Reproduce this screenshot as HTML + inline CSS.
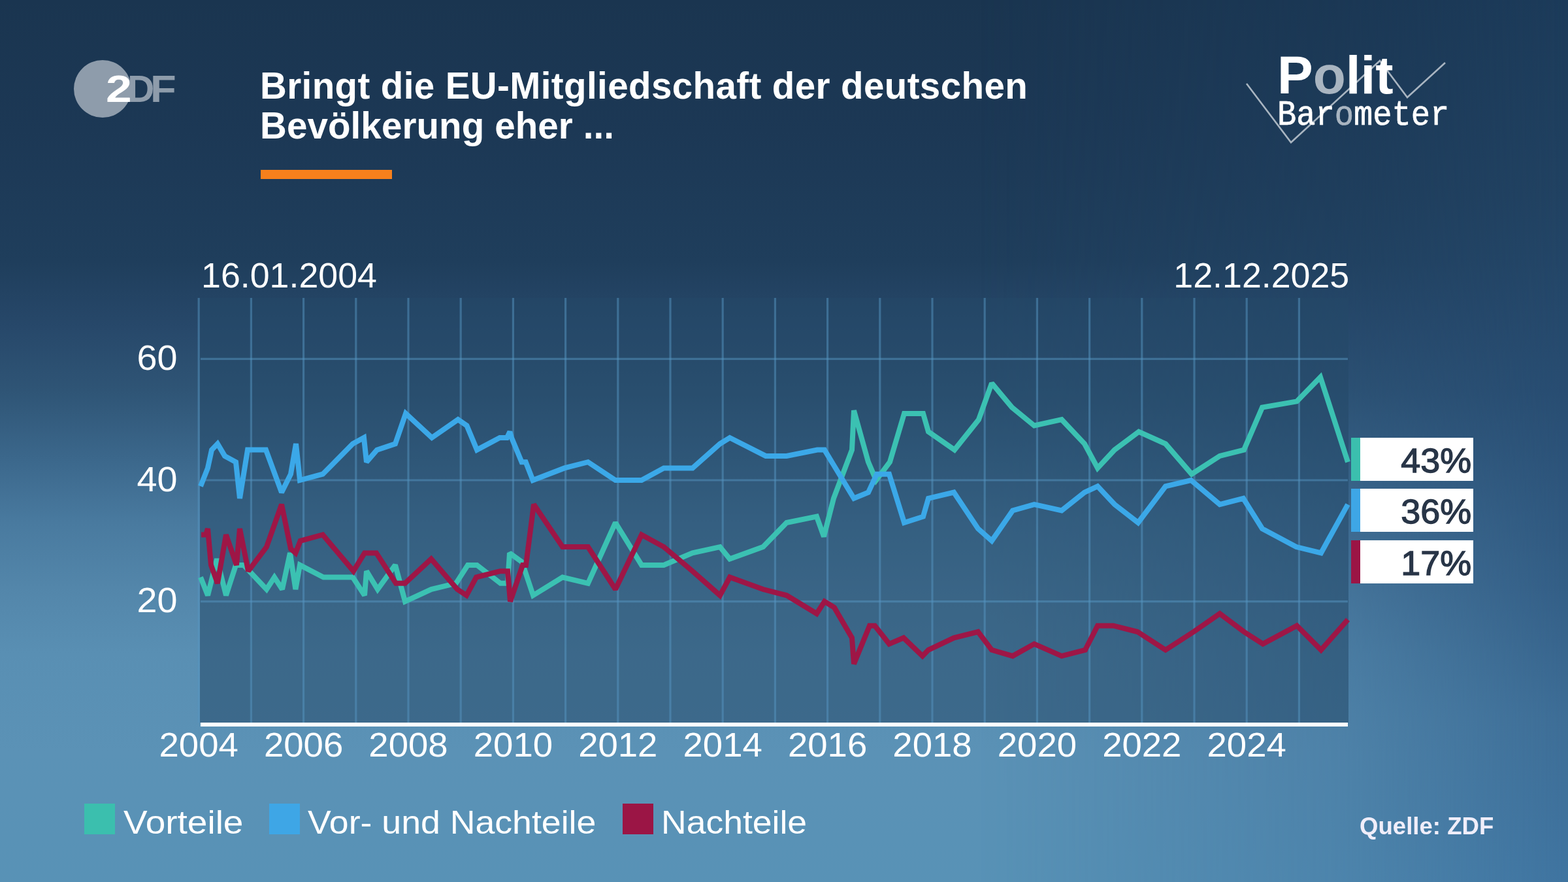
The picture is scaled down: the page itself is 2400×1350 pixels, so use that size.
<!DOCTYPE html>
<html lang="de">
<head>
<meta charset="utf-8">
<title>Politbarometer – EU-Mitgliedschaft</title>
<style>
*{margin:0;padding:0;box-sizing:border-box}
html,body{width:2400px;height:1350px;overflow:hidden}
body{position:relative;font-family:"Liberation Sans",Arial,sans-serif;color:#fff;
background:linear-gradient(180deg,#1a3550 0px,#1c3855 200px,#1f3e5c 400px,#27486a 500px,#2f5576 600px,#3b678b 700px,#497a9f 800px,#5386aa 900px,#598fb3 1000px,#5b92b6 1150px,#5892b6 1350px);}
#bgR{position:absolute;left:0;top:0;width:2400px;height:1350px;
background:linear-gradient(180deg,#1c3b5a 0px,#214262 300px,#284d72 600px,#335e86 900px,#3d6d96 1100px,#3f74a0 1350px);
-webkit-mask-image:linear-gradient(90deg,rgba(0,0,0,0) 1500px,rgba(0,0,0,0.45) 2050px,#000 2400px);
mask-image:linear-gradient(90deg,rgba(0,0,0,0) 1500px,rgba(0,0,0,0.45) 2050px,#000 2400px);}
.abs{position:absolute}
#title{left:398px;top:100.5px;font-weight:bold;font-size:56.5px;line-height:61.3px;white-space:nowrap;letter-spacing:0.4px}
#bar{left:399px;top:260px;width:201px;height:14px;background:#f7801c}
.date{top:393px;font-size:53px;line-height:58px;white-space:nowrap;transform:scaleX(1.014)}
#chart{left:0;top:0}
.leg{top:1230px;height:47px}
.sq{position:absolute;top:1230px;width:47px;height:47px}
.lt{position:absolute;top:1230.5px;font-size:50px;line-height:56px;white-space:nowrap;transform-origin:0 0}
#src{left:2081px;top:1244px;font-size:36.6px;font-weight:bold;color:#f0eefa;white-space:nowrap}
.box{position:absolute;left:2068px;width:187px;height:66px;background:#fff}
.box i{position:absolute;left:0;top:0;width:14px;height:66px}
.box span{position:absolute;right:2.5px;top:6px;font-size:52px;line-height:58px;color:#283547;transform:scaleX(1.036);transform-origin:100% 0;-webkit-text-stroke:1.3px #283547}
</style>
</head>
<body>
<div id="bgR"></div>
<!-- ZDF logo -->
<div class="abs" style="left:113px;top:92px;width:88px;height:88px;border-radius:50%;background:#8e9cab"></div>
<div class="abs" id="zdf" style="left:0;top:106.1px;font-size:58px;line-height:60px;font-weight:bold;color:#8e9cab;white-space:nowrap"><span style="position:absolute;left:162.2px;color:#fff;transform:scaleX(1.236);transform-origin:0 0">2</span><span style="position:absolute;left:194.9px;transform:scaleX(0.986);transform-origin:0 0">D</span><span style="position:absolute;left:230.4px;transform:scaleX(1.12);transform-origin:0 0">F</span></div>

<div class="abs" id="title">Bringt die EU-Mitgliedschaft der deutschen<br><span style="letter-spacing:0.1px">Bevölkerung eher ...</span></div>
<div class="abs" id="bar"></div>

<!-- Politbarometer logo -->
<svg class="abs" style="left:1890px;top:70px" width="340" height="160" viewBox="1890 70 340 160">
<polyline points="1908,128 1976,218 2112,93 2154,149 2212,96" fill="none" stroke="#a9b5c1" stroke-width="2.6"/>
</svg>
<div class="abs" style="left:1955px;top:70px;font-size:82px;line-height:90px;font-weight:bold;white-space:nowrap">P<span style="color:#a9b5c1">o</span>lit</div>
<div class="abs" style="left:1955px;top:149px;font-family:'Liberation Mono',monospace;font-size:53px;line-height:56px;white-space:nowrap;transform:scaleX(0.92);transform-origin:0 0;-webkit-text-stroke:0.7px #fff">Bar<span style="color:#a9b5c1;-webkit-text-stroke-color:#a9b5c1">o</span>meter</div>

<div class="abs date" style="left:308px;transform-origin:0 0">16.01.2004</div>
<div class="abs date" style="right:335px;transform-origin:100% 0">12.12.2025</div>

<svg class="abs" id="chart" width="2400" height="1350" viewBox="0 0 2400 1350">
<rect x="306" y="456" width="1758" height="650" fill="rgba(36,72,104,0.55)"/>
<g id="grid" stroke="rgba(86,150,194,0.5)" stroke-width="3.2"><line x1="304.2" y1="456" x2="304.2" y2="1106"/><line x1="384.4" y1="456" x2="384.4" y2="1106"/><line x1="464.6" y1="456" x2="464.6" y2="1106"/><line x1="544.8" y1="456" x2="544.8" y2="1106"/><line x1="625.0" y1="456" x2="625.0" y2="1106"/><line x1="705.2" y1="456" x2="705.2" y2="1106"/><line x1="785.4" y1="456" x2="785.4" y2="1106"/><line x1="865.6" y1="456" x2="865.6" y2="1106"/><line x1="945.8" y1="456" x2="945.8" y2="1106"/><line x1="1026.0" y1="456" x2="1026.0" y2="1106"/><line x1="1106.2" y1="456" x2="1106.2" y2="1106"/><line x1="1186.4" y1="456" x2="1186.4" y2="1106"/><line x1="1266.6" y1="456" x2="1266.6" y2="1106"/><line x1="1346.8" y1="456" x2="1346.8" y2="1106"/><line x1="1427.0" y1="456" x2="1427.0" y2="1106"/><line x1="1507.2" y1="456" x2="1507.2" y2="1106"/><line x1="1587.4" y1="456" x2="1587.4" y2="1106"/><line x1="1667.6" y1="456" x2="1667.6" y2="1106"/><line x1="1747.8" y1="456" x2="1747.8" y2="1106"/><line x1="1828.0" y1="456" x2="1828.0" y2="1106"/><line x1="1908.2" y1="456" x2="1908.2" y2="1106"/><line x1="1988.4" y1="456" x2="1988.4" y2="1106"/><line x1="307" y1="920.6" x2="2063" y2="920.6"/><line x1="307" y1="735.0" x2="2063" y2="735.0"/><line x1="307" y1="549.4" x2="2063" y2="549.4"/></g>
<g id="lines" fill="none" stroke-width="8" stroke-linejoin="miter" stroke-miterlimit="2" stroke-linecap="butt"><polyline stroke="#3bc1b2" points="307,883.5 318,911.3 332,855.6 346,911.3 361,864.9 373,864.9 408,902.0 420,883.5 432,902.0 444,846.4 452.4,902.0 459,864.9 495,883.5 540,883.5 558,911.3 561,874.2 578,902.0 605,864.9 620,920.6 660,902.0 698,892.8 716,864.9 730,864.9 766,892.8 777,892.8 780,846.4 799,860.3 816,911.3 861,883.5 900,892.8 942,800.0 982,864.9 1016,864.9 1060,846.4 1102,837.1 1117,855.6 1168,837.1 1204,800.0 1250,790.7 1261,821.3 1276,762.8 1304,688.6 1307,628.3 1329,707.2 1341,735.0 1362,707.2 1384,632.9 1413,632.9 1421,660.8 1461,688.6 1498,642.2 1518,586.5 1549,623.6 1583,651.5 1625,642.2 1660,679.3 1680,716.4 1706,688.6 1743,660.8 1784,679.3 1824,725.7 1867,697.9 1904,688.6 1932,623.6 1985,614.4 2021,577.2 2063,707.2"/><polyline stroke="#3ba8e8" points="307,744.3 318,716.4 324,688.6 333,679.3 344,697.9 361,707.2 367,762.8 379,688.6 407,688.6 431,753.6 445,725.7 453,679.3 459,735.0 494,725.7 540,679.3 557,670.0 561,707.2 577,688.6 605,679.3 621,632.9 661,670.0 701,642.2 714.5,651.5 730,688.6 765,670.0 776,670.0 780.4,660.8 783,670.0 798.5,707.2 804.7,707.2 815.6,735.0 864,716.4 900,707.2 942,735.0 982,735.0 1016,716.4 1060,716.4 1102,679.3 1117,670.0 1172,697.9 1204,697.9 1251,688.6 1262,688.6 1276,711.8 1307,762.8 1329,753.6 1342,725.7 1361,725.7 1384,800.0 1413,790.7 1421,762.8 1460,753.6 1497,809.2 1518,827.8 1550,781.4 1583,772.1 1625,781.4 1660,753.6 1680,744.3 1706,772.1 1742,800.0 1784,744.3 1823,735.0 1867,772.1 1903,762.8 1932,809.2 1984,837.1 2022,846.4 2063,772.1"/><polyline stroke="#9e1646" points="308,818.5 315,818.5 318,809.2 323,864.9 333,892.8 346,818.5 362,864.9 367,809.2 380,874.2 408,837.1 431,772.1 445,839.9 452.4,846.4 459.7,827.8 494,818.5 541,874.2 558,846.4 576,846.4 606,892.8 620,892.8 660,855.6 700,902.0 714,911.3 729,883.5 766,874.2 777,874.2 781,920.6 800,864.9 805,864.9 817,772.1 861,837.1 900,837.1 942,902.0 982,818.5 1016,837.1 1060,874.2 1102,911.3 1117,883.5 1168,902.0 1204,911.3 1250,939.2 1262,920.6 1277,929.9 1304,976.3 1307,1016.2 1331,957.7 1339,957.7 1361,985.6 1383,976.3 1412,1004.1 1421,994.8 1460,976.3 1497,967.0 1518,994.8 1550,1004.1 1583,985.6 1625,1004.1 1661,994.8 1680,957.7 1704,957.7 1741,967.0 1784,994.8 1827,967.0 1867,939.2 1904,967.0 1933,985.6 1985,957.7 2022,994.8 2063,948.4"/></g>
<rect x="307" y="1106" width="1756" height="6" fill="#fff"/>
<g id="ylab" font-size="53.4" fill="#fff" text-anchor="end"><text transform="translate(271.5 937.1) scale(1.044 1)">20</text><text transform="translate(271.5 751.5) scale(1.044 1)">40</text><text transform="translate(271.5 565.9) scale(1.044 1)">60</text></g>
<g id="xlab" font-size="52.2" fill="#fff" text-anchor="middle"><text transform="translate(304.2 1158) scale(1.045 1)">2004</text><text transform="translate(464.6 1158) scale(1.045 1)">2006</text><text transform="translate(625.0 1158) scale(1.045 1)">2008</text><text transform="translate(785.4 1158) scale(1.045 1)">2010</text><text transform="translate(945.8 1158) scale(1.045 1)">2012</text><text transform="translate(1106.2 1158) scale(1.045 1)">2014</text><text transform="translate(1266.6 1158) scale(1.045 1)">2016</text><text transform="translate(1427.0 1158) scale(1.045 1)">2018</text><text transform="translate(1587.4 1158) scale(1.045 1)">2020</text><text transform="translate(1747.8 1158) scale(1.045 1)">2022</text><text transform="translate(1908.2 1158) scale(1.045 1)">2024</text></g>
</svg>

<div class="box" style="top:670px"><i style="background:#3bbfae"></i><span>43%</span></div>
<div class="box" style="top:748px"><i style="background:#3ea6e6"></i><span>36%</span></div>
<div class="box" style="top:827px"><i style="background:#9b1545"></i><span>17%</span></div>

<div class="sq" style="left:129px;background:#3bbfae"></div>
<div class="lt" style="left:189px;transform:scaleX(1.10)">Vorteile</div>
<div class="sq" style="left:412px;background:#3ea6e6"></div>
<div class="lt" style="left:471px;transform:scaleX(1.073)">Vor- und Nachteile</div>
<div class="sq" style="left:953px;background:#9b1545"></div>
<div class="lt" style="left:1012px;transform:scaleX(1.07)">Nachteile</div>
<div class="abs" id="src">Quelle: ZDF</div>
</body>
</html>
